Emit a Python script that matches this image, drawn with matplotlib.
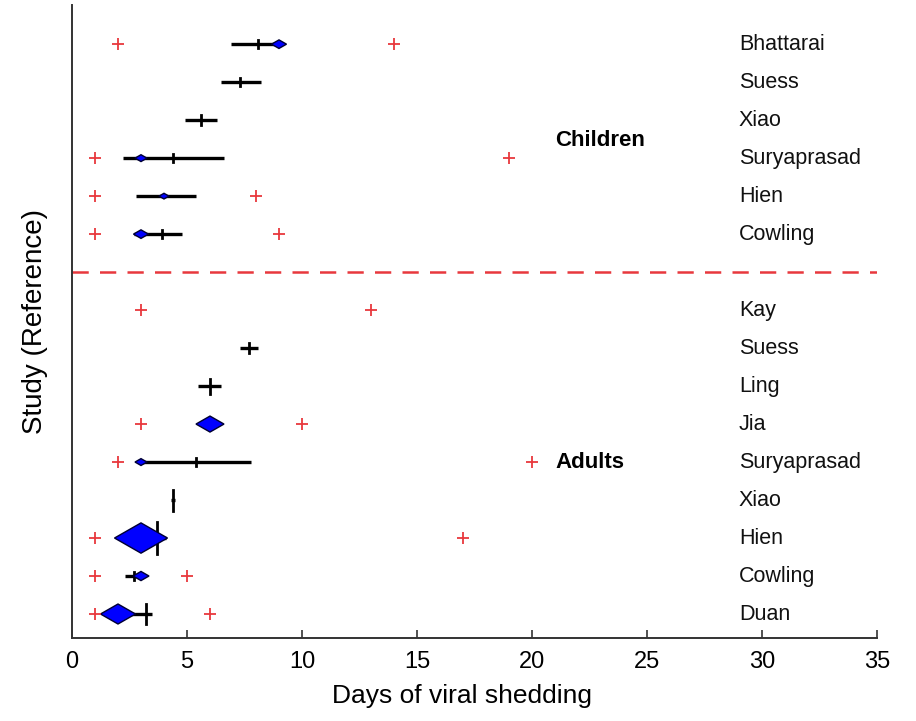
import matplotlib as mpl
mpl.use('Agg')

import matplotlib.pyplot as plt
from matplotlib.patches import Polygon
import numpy as np

plt.rcParams['font.family'] = ['Liberation Sans', 'DejaVu Sans']

# studies, top to bottom; the children block sits above the dashed divider
studies = ['Bhattarai', 'Suess', 'Xiao', 'Suryaprasad', 'Hien', 'Cowling',
           'Kay', 'Suess', 'Ling', 'Jia', 'Suryaprasad', 'Xiao', 'Hien', 'Cowling', 'Duan']
rows = [16, 15, 14, 13, 12, 11, 9, 8, 7, 6, 5, 4, 3, 2, 1]

# range of shedding (min / max), nan where not reported
range_lo = [2, np.nan, np.nan, 1, 1, 1, 3, np.nan, np.nan, 3, 2, np.nan, 1, 1, 1]
range_hi = [14, np.nan, np.nan, 19, 8, 9, 13, np.nan, np.nan, 10, 20, np.nan, 17, 5, 6]

# interval around the mean
ci_lo = [6.9, 6.5, 4.9, 2.2, 2.8, 2.7, np.nan, 7.3, 5.5, np.nan, 3.0, 4.3, 2.6, 2.3, 2.2]
ci_hi = [9.1, 8.2, 6.3, 6.6, 5.4, 4.8, np.nan, 8.1, 6.5, np.nan, 7.8, 4.5, 4.1, 3.1, 3.5]
means = [8.1, 7.3, 5.6, 4.4, np.nan, 3.9, np.nan, 7.7, 6.0, np.nan, 5.4, 4.4, 3.7, 2.7, 3.2]
medians = [9.0, np.nan, np.nan, 3.0, 4.0, 3.0, np.nan, np.nan, np.nan, 6.0, 3.0, np.nan, 3.0, 3.0, 2.0]

# study weights (marker scaling for mean ticks and median diamonds)
mean_wt = [8, 8, 10, 8, 0, 8, 0, 10, 15, 0, 8, 21, 32, 8, 20]
median_wt = [15, 0, 0, 12, 10, 15, 0, 0, 0, 28, 12, 0, 53, 16, 35]

groups = ['Children', 'Adults']
group_rows = [13.47, 5]
divider = 10

fig = plt.figure(figsize=(9.16, 7.21), dpi=100)
ax = fig.add_axes([0.0786, 0.1151, 0.8788, 0.8779])
ax.set_xlim(0, 35)
ax.set_ylim(0.368, 17.03)

ax.axhline(divider, color='#e8383d', lw=1.8, dashes=(6.5, 4.5))

for i, y in enumerate(rows):
    if not np.isnan(ci_lo[i]):
        ax.plot([ci_lo[i], ci_hi[i]], [y, y], color='black', lw=2.4,
                solid_capstyle='butt', zorder=3)
    if not np.isnan(means[i]):
        h = mean_wt[i] / 38.0 / 2
        ax.plot([means[i], means[i]], [y - h, y + h], color='black', lw=2.0, zorder=3)
    if not np.isnan(medians[i]):
        hw = median_wt[i] / 23.0 / 2
        hh = median_wt[i] / 1.75 / 38.0 / 2
        m = medians[i]
        ax.add_patch(Polygon([(m - hw, y), (m, y + hh), (m + hw, y), (m, y - hh)],
                             closed=True, facecolor='#0000ff', edgecolor='#000033',
                             lw=1.0, zorder=4))
    ax.plot([range_lo[i], range_hi[i]], [y, y], ls='none', marker='+', ms=8,
            mew=1.3, color='#e8383d', zorder=5)
    ax.text(29.0, y, studies[i], fontsize=15.5, va='center', ha='left', color='#111111')

for g, y in zip(groups, group_rows):
    ax.text(21.0, y, g, fontsize=16, fontweight='bold', va='center', ha='left')

for side in ['top', 'right']:
    ax.spines[side].set_visible(False)
for side in ['left', 'bottom']:
    ax.spines[side].set_color('#333333')
    ax.spines[side].set_linewidth(1.4)

ax.set_yticks([])
ax.set_xticks(np.arange(0, 36, 5))
ax.tick_params(axis='x', direction='in', length=6, width=1.2, color='#333333',
               labelsize=17, pad=9)
ax.set_xlabel('Days of viral shedding', fontsize=19)
ax.xaxis.set_label_coords(0.485, -0.072)
ax.set_ylabel('Study (Reference)', fontsize=20)
ax.yaxis.set_label_coords(-0.03, 0.5)

fig.savefig('out.png', dpi=100)
